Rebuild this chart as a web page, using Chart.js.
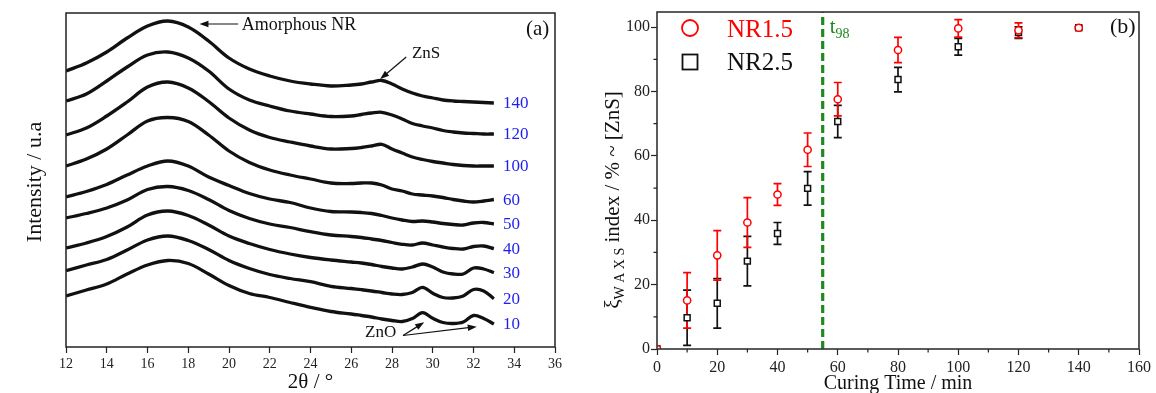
<!DOCTYPE html>
<html lang="en">
<head>
<meta charset="UTF-8">
<title>WAXS profiles and ZnS index vs curing time</title>
<script src="https://cdn.jsdelivr.net/npm/chart.js"></script>
<style>
  body { margin: 0; background: #fff; }
  .panel { position: absolute; top: 0; }
</style>
</head>
<body>
<canvas id="waxs" class="panel" width="575" height="393" style="left:0"></canvas>
<canvas id="zns" class="panel" width="576" height="393" style="left:580px"></canvas>
<script>
const SERIF = '"Liberation Serif", "DejaVu Serif", serif';

// (a) WAXS intensity (a.u., stacked) against 2-theta, one profile per curing time
const ANGLE = [12, 13, 14, 15, 16, 17, 18, 19, 20, 21, 22, 23, 24, 25, 26,
               26.5, 27, 27.5, 28, 28.5, 29, 29.5, 30, 30.5, 31, 31.5, 32, 32.5, 33];
const I_140 = [276, 284, 295, 309, 321, 326, 320, 306, 289, 278, 271, 266, 263, 261, 262,
               263, 265, 266.5, 263, 258, 254, 251, 249, 247, 246, 245.5, 245, 244.5, 244];
const I_120 = [246, 253, 266, 280, 292, 295, 289, 276, 258, 247, 241, 236, 233, 230.5, 231,
               232.5, 234, 234.7, 232, 228, 223.5, 221, 219, 216.5, 215, 214, 213.5, 213, 213];
const I_100 = [212, 219, 231, 245, 260, 265, 259, 245.5, 229, 217, 209.5, 205, 201, 198, 198.5,
               199.5, 201, 202.7, 198, 194, 190, 187.5, 185.5, 184, 182.5, 181.5, 181, 181, 181];
const I_60  = [181, 188, 198, 212, 226, 229.5, 225.5, 212, 196, 184.5, 177, 172, 168, 164, 163.5,
               164, 164, 162, 158, 156, 153, 152, 151, 149.5, 147.5, 146, 145, 146, 147.5];
const I_50  = [150, 155.5, 162.5, 172, 181, 186, 181, 170, 161.5, 153.5, 148, 144.5, 139, 135.5, 135,
               134.5, 133.5, 131.5, 129, 127, 125.5, 126, 125, 123.5, 122.5, 122, 124, 124.5, 123];
const I_40  = [129, 133.5, 139, 147, 157.5, 160.5, 156.5, 147.5, 136.5, 128.5, 123, 119.5, 115.3, 112, 110.5,
               109.5, 108, 106.5, 104.5, 102.7, 102, 104, 102, 100, 98.5, 98, 100.5, 101, 98.3];
const I_30  = [99, 104, 110.5, 120, 132, 136, 131.5, 122, 111, 103.5, 97.5, 93, 89.5, 87, 85,
               84, 82.5, 80.5, 79, 78, 80, 83, 80, 75, 73, 73, 79, 78, 74.3];
const I_20  = [76.3, 82, 87.5, 97, 107, 111, 106.5, 97.5, 86.5, 78.5, 72.5, 68.5, 65.3, 60.7, 58.5,
               57.3, 56, 54.5, 53, 52.5, 54.5, 59.7, 53.7, 49.5, 49, 51, 57.5, 56, 48.3];
const I_10  = [51, 57, 63, 73, 82, 86.5, 83.5, 73, 61.5, 53.5, 49.5, 44.5, 39.7, 35.5, 33,
               31.5, 30, 28, 26.5, 25.5, 28.5, 34.3, 28.7, 24.5, 23.5, 25, 31.5, 28.5, 23];
const CURE_TIMES = ['140', '120', '100', '60', '50', '40', '30', '20', '10'];
const PROFILES = [I_140, I_120, I_100, I_60, I_50, I_40, I_30, I_20, I_10];

// (b) ZnS index (%) against curing time (min), with error bars
const TIME     = [0, 10, 20, 30, 40, 50, 60, 80, 100, 120, 140];
const NR15     = [0, 15.1, 29.1, 39.3, 48, 61.9, 77.6, 92.9, 99.6, 99, 99.8];
const NR15_ERR = [0, 8.6, 7.7, 7.7, 3.4, 5.2, 5.2, 3.9, 2.7, 2.3, 0.5];
const NR25     = [0, 9.7, 14.2, 27.3, 35.9, 49.9, 70.7, 83.7, 93.9, 98.3, 99.8];
const NR25_ERR = [0, 8.6, 7.7, 7.7, 3.4, 5.2, 5.0, 3.8, 2.6, 1.8, 0.3];
const Y_TICKS = [0, 20, 40, 60, 80, 100];
const T98 = 55;
const Y_MAX = 104.7;

const RED = '#ff0000';
const GREEN = '#1f8a1f';
const BLUE = '#1e1ef0';

Chart.defaults.font.family = SERIF;
Chart.defaults.color = '#222';

// box around the plotting area
const frame = {
  id: 'frame',
  afterDraw(chart, args, opts) {
    const { ctx, chartArea: a } = chart;
    ctx.save();
    ctx.strokeStyle = opts.color;
    ctx.lineWidth = opts.width;
    ctx.strokeRect(a.left, a.top, a.right - a.left, a.bottom - a.top);
    ctx.restore();
  }
};

function arrow(ctx, x1, y1, x2, y2) {
  const ang = Math.atan2(y2 - y1, x2 - x1), L = 9, W = 3.2;
  const c = Math.cos(ang), s = Math.sin(ang);
  ctx.beginPath();
  ctx.moveTo(x1, y1);
  ctx.lineTo(x2 - L * 0.7 * c, y2 - L * 0.7 * s);
  ctx.stroke();
  ctx.beginPath();
  ctx.moveTo(x2, y2);
  ctx.lineTo(x2 - L * c + W * s, y2 - L * s - W * c);
  ctx.lineTo(x2 - L * c - W * s, y2 - L * s + W * c);
  ctx.closePath();
  ctx.fill();
}

function vText(ctx, txt, x, y, font) {
  ctx.save();
  ctx.translate(x, y);
  ctx.rotate(-Math.PI / 2);
  ctx.font = font;
  ctx.textAlign = 'center';
  ctx.textBaseline = 'middle';
  ctx.fillText(txt, 0, 0);
  ctx.restore();
}

const waxsNotes = {
  id: 'waxsNotes',
  afterDraw(chart) {
    const { ctx, scales: { x, y } } = chart;
    const P = (a, i) => [x.getPixelForValue(a), y.getPixelForValue(i)];
    ctx.save();
    ctx.fillStyle = '#111';
    ctx.strokeStyle = '#111';
    ctx.lineWidth = 1.2;
    ctx.textBaseline = 'middle';
    ctx.textAlign = 'left';

    // amorphous halo
    arrow(ctx, ...P(20.45, 323), ...P(18.55, 323));
    ctx.font = `18px ${SERIF}`;
    ctx.fillText('Amorphous NR', ...P(20.62, 322));

    // ZnS reflection
    arrow(ctx, ...P(28.7, 290), ...P(27.42, 268));
    ctx.font = `17px ${SERIF}`;
    ctx.fillText('ZnS', ...P(28.98, 293));

    // ZnO reflections
    arrow(ctx, ...P(28.54, 11.5), ...P(29.58, 24.7));
    arrow(ctx, ...P(28.54, 11.5), ...P(32.16, 20.3));
    ctx.fillText('ZnO', ...P(26.68, 14));

    // curing time at the end of each profile
    ctx.fillStyle = BLUE;
    ctx.font = `17px ${SERIF}`;
    chart.data.datasets.forEach(ds => {
      const last = ds.data[ds.data.length - 1];
      ctx.fillText(ds.label, x.getPixelForValue(last.x) + 9, y.getPixelForValue(last.y) + 1);
    });

    ctx.fillStyle = '#111';
    ctx.font = `21px ${SERIF}`;
    ctx.fillText('(a)', 526, 29);
    vText(ctx, 'Intensity / u.a', 35, 182, `22px ${SERIF}`);
    ctx.restore();
  }
};

new Chart(document.getElementById('waxs'), {
  type: 'line',
  data: {
    datasets: PROFILES.map((vals, k) => ({
      label: CURE_TIMES[k],
      data: ANGLE.map((a, i) => ({ x: a, y: vals[i] })),
      borderColor: '#111',
      borderWidth: 3.3,
      pointRadius: 0,
      tension: 0.35,
      fill: false
    }))
  },
  options: {
    responsive: false,
    animation: false,
    events: [],
    layout: { padding: { left: 66, right: 20, top: 13, bottom: 0 } },
    plugins: {
      legend: { display: false },
      tooltip: { enabled: false },
      frame: { color: '#222', width: 1.5 }
    },
    scales: {
      x: {
        type: 'linear', min: 12, max: 36,
        border: { display: false },
        grid: { drawOnChartArea: false, tickLength: 6, tickColor: '#222', tickWidth: 1.2 },
        ticks: { stepSize: 2, padding: 3, font: { size: 14 }, color: '#222' },
        title: { display: true, text: '2θ / °', font: { size: 21, lineHeight: 1 }, padding: { top: 0, bottom: 0 }, color: '#111' },
        afterFit: s => { s.height = 46; }
      },
      y: { type: 'linear', display: false, min: 0, max: 334 }
    }
  },
  plugins: [frame, waxsNotes]
});

// error bars, minor ticks, legend and labels for panel (b)
const errorBars = {
  id: 'errorBars',
  beforeDatasetsDraw(chart) {
    const { ctx, chartArea: a, scales: { x, y } } = chart;
    ctx.save();
    ctx.beginPath();
    ctx.rect(a.left, a.top, a.right - a.left, a.bottom - a.top);
    ctx.clip();
    chart.data.datasets.slice().reverse().forEach(ds => {
      if (!ds.errors) return;
      ctx.strokeStyle = ds.borderColor;
      ctx.lineWidth = 1.7;
      ds.data.forEach((p, i) => {
        const e = ds.errors[i];
        if (!e) return;
        const px = x.getPixelForValue(p.x);
        const top = y.getPixelForValue(p.y + e), bot = y.getPixelForValue(p.y - e);
        ctx.beginPath();
        ctx.moveTo(px, top); ctx.lineTo(px, bot);
        ctx.moveTo(px - 4, top); ctx.lineTo(px + 4, top);
        ctx.moveTo(px - 4, bot); ctx.lineTo(px + 4, bot);
        ctx.stroke();
      });
    });
    ctx.restore();
  }
};

const znsNotes = {
  id: 'znsNotes',
  afterDraw(chart) {
    const { ctx, chartArea: a, scales: { x, y } } = chart;
    ctx.save();

    // minor ticks
    ctx.strokeStyle = '#222';
    ctx.lineWidth = 1.2;
    ctx.beginPath();
    for (let t = 10; t < 160; t += 20) {
      const px = x.getPixelForValue(t);
      ctx.moveTo(px, a.bottom); ctx.lineTo(px, a.bottom + 3.5);
    }
    for (let v = 10; v < 100; v += 20) {
      const py = y.getPixelForValue(v);
      ctx.moveTo(a.left, py); ctx.lineTo(a.left - 3.5, py);
    }
    ctx.stroke();

    // legend
    const [s15, s25] = chart.data.datasets;
    const mx = a.left + 33;
    ctx.lineWidth = 1.8;
    ctx.strokeStyle = s15.borderColor;
    ctx.beginPath(); ctx.arc(mx, 28, 8, 0, 2 * Math.PI); ctx.stroke();
    ctx.strokeStyle = s25.borderColor;
    ctx.strokeRect(mx - 7.5, 62 - 7.5, 15, 15);
    ctx.font = `25px ${SERIF}`;
    ctx.textAlign = 'left';
    ctx.textBaseline = 'middle';
    ctx.fillStyle = s15.borderColor;
    ctx.fillText(s15.label, a.left + 70, 30);
    ctx.fillStyle = s25.borderColor;
    ctx.fillText(s25.label, a.left + 70, 63);

    // t98 marker label
    const tx = x.getPixelForValue(T98) + 7;
    ctx.fillStyle = GREEN;
    ctx.textBaseline = 'alphabetic';
    ctx.font = `21px ${SERIF}`;
    ctx.fillText('t', tx, 33);
    const tw = ctx.measureText('t').width;
    ctx.font = `14px ${SERIF}`;
    ctx.fillText('98', tx + tw, 38);

    // panel tag
    ctx.fillStyle = '#111';
    ctx.textBaseline = 'middle';
    ctx.font = `22px ${SERIF}`;
    ctx.fillText('(b)', 530, 27.5);

    // y title with subscript
    ctx.translate(39, 200);
    ctx.rotate(-Math.PI / 2);
    ctx.textBaseline = 'alphabetic';
    const big = `21px ${SERIF}`, small = `14px ${SERIF}`;
    const head = 'ξ', sub = 'W A X S', tail = ' index / % ~ [ZnS]';
    ctx.font = big;
    const w1 = ctx.measureText(head).width, w3 = ctx.measureText(tail).width;
    ctx.font = small;
    const w2 = ctx.measureText(sub).width;
    let cx = -(w1 + w2 + w3) / 2;
    ctx.font = big; ctx.fillText(head, cx, 0); cx += w1;
    ctx.font = small; ctx.fillText(sub, cx, 5); cx += w2;
    ctx.font = big; ctx.fillText(tail, cx, 0);
    ctx.restore();
  }
};

new Chart(document.getElementById('zns'), {
  type: 'scatter',
  data: {
    datasets: [
      {
        label: 'NR1.5',
        data: TIME.map((t, i) => ({ x: t, y: NR15[i] })),
        errors: NR15_ERR,
        borderColor: RED,
        pointBorderColor: RED,
        pointBackgroundColor: '#fff',
        pointStyle: 'circle',
        pointRadius: 3.6,
        pointBorderWidth: 1.5
      },
      {
        label: 'NR2.5',
        data: TIME.map((t, i) => ({ x: t, y: NR25[i] })),
        errors: NR25_ERR,
        borderColor: '#111',
        pointBorderColor: '#111',
        pointBackgroundColor: '#fff',
        pointStyle: 'rect',
        pointRadius: 4.2,
        pointBorderWidth: 1.5
      },
      {
        label: 't98',
        type: 'line',
        data: [{ x: T98, y: 0 }, { x: T98, y: Y_MAX }],
        borderColor: GREEN,
        borderWidth: 3.2,
        borderDash: [8, 4],
        pointRadius: 0,
        showLine: true,
        fill: false
      }
    ]
  },
  options: {
    responsive: false,
    animation: false,
    events: [],
    layout: { padding: { left: 0, right: 17, top: 12, bottom: 0 } },
    plugins: {
      legend: { display: false },
      tooltip: { enabled: false },
      frame: { color: '#333', width: 1.6 }
    },
    scales: {
      x: {
        type: 'linear', min: 0, max: 160,
        border: { display: false },
        grid: { drawOnChartArea: false, tickLength: 6, tickColor: '#222', tickWidth: 1.2 },
        ticks: { stepSize: 20, padding: 3, font: { size: 16 }, color: '#222' },
        title: { display: true, text: 'Curing Time / min', font: { size: 20, lineHeight: 1 }, padding: { top: 0, bottom: -1 }, color: '#111' },
        afterFit: s => { s.height = 44; }
      },
      y: {
        type: 'linear', min: 0, max: Y_MAX,
        border: { display: false },
        grid: { drawOnChartArea: false, tickLength: 6, tickColor: '#222', tickWidth: 1.2 },
        ticks: { padding: 1, font: { size: 16 }, color: '#222' },
        afterBuildTicks: s => { s.ticks = Y_TICKS.map(v => ({ value: v })); },
        afterFit: s => { s.width = 77; }
      }
    }
  },
  plugins: [frame, errorBars, znsNotes]
});
</script>
</body>
</html>
